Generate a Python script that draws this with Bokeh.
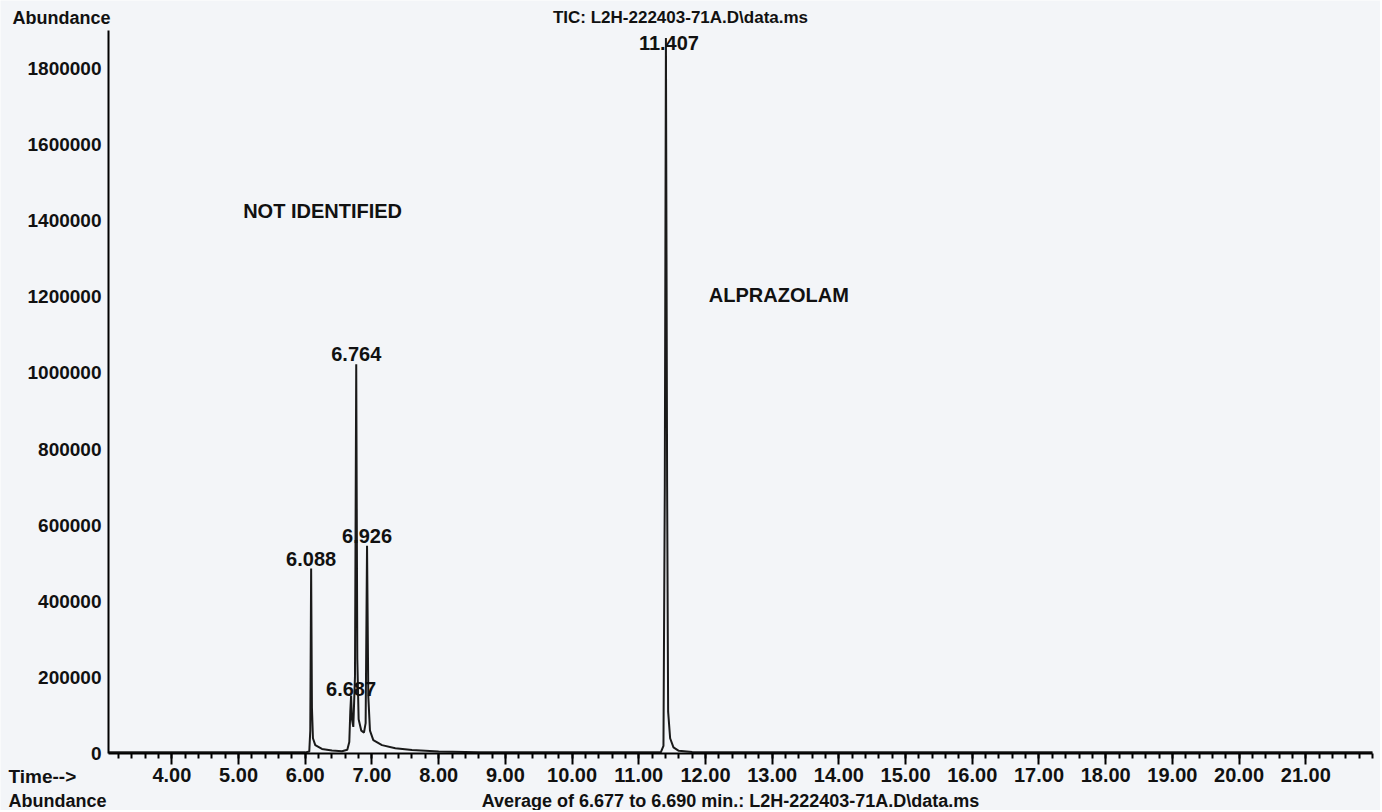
import numpy as np
from bokeh.plotting import figure
from bokeh.models import Range1d, Label, FixedTicker, ColumnDataSource
from bokeh.core.properties import value
from bokeh.embed import file_html
from bokeh.resources import INLINE

# ---- data ----
times = [3.05, 6.00, 6.06, 6.075, 6.088, 6.10, 6.115, 6.15, 6.25, 6.40, 6.55,
         6.63, 6.66, 6.675, 6.687, 6.70, 6.72, 6.745, 6.764, 6.78, 6.80, 6.84,
         6.88, 6.905, 6.926, 6.945, 6.97, 7.02, 7.15, 7.35, 7.60, 8.00, 8.60,
         11.33, 11.37, 11.39, 11.407, 11.425, 11.44, 11.47, 11.52, 11.60, 11.80,
         12.20, 22.0]
abundance = [3000, 3000, 5000, 60000, 486000, 120000, 40000, 22000, 12000, 8000, 6000,
             10000, 30000, 110000, 152000, 90000, 70000, 200000, 1023000, 250000, 90000, 60000,
             55000, 80000, 546000, 150000, 60000, 35000, 22000, 14000, 9000, 5000, 3500,
             3000, 20000, 700000, 1880000, 700000, 110000, 40000, 16000, 7000, 4000,
             3000, 3000]

peak_rt = [6.088, 6.687, 6.764, 6.926, 11.407]
peak_abund = [486000, 152000, 1023000, 546000, 1880000]
peak_labels = ["6.088", "6.687", "6.764", "6.926", "11.407"]

x_ticks = [4, 5, 6, 7, 8, 9, 10, 11, 12, 13, 14, 15, 16, 17, 18, 19, 20, 21]
x_tick_labels = ["4.00", "5.00", "6.00", "7.00", "8.00", "9.00", "10.00", "11.00",
                 "12.00", "13.00", "14.00", "15.00", "16.00", "17.00", "18.00",
                 "19.00", "20.00", "21.00"]
y_ticks = [0, 200000, 400000, 600000, 800000, 1000000, 1200000, 1400000, 1600000, 1800000]
y_tick_labels = ["0", "200000", "400000", "600000", "800000", "1000000", "1200000",
                 "1400000", "1600000", "1800000"]

time_start, time_end = 3.05, 22.0
abund_top = 1900000

title_text = "TIC: L2H-222403-71A.D\\data.ms"
footer_text = "Average of 6.677 to 6.690 min.: L2H-222403-71A.D\\data.ms"
compound_labels = ["NOT IDENTIFIED", "ALPRAZOLAM"]
compound_x = [6.26, 13.1]
compound_y = [1426000, 1205000]

# ---- layout / styles ----
W, H = 1380, 810
AX_LEFT, AX_RIGHT, AX_TOP, AX_BOTTOM = 108, 1372, 30, 753   # pixel frame of the axes
kx = (AX_RIGHT - AX_LEFT) / (time_end - time_start)
ky = (AX_BOTTOM - AX_TOP) / abund_top
x0 = time_start - AX_LEFT / kx
x1 = x0 + W / kx
y1 = AX_BOTTOM / ky
y0 = -(H - AX_BOTTOM) / ky

FONT = "Liberation Sans"
BG = "#f3f5f8"
INK = "#111111"

p = figure(width=W, height=H, x_range=Range1d(x0, x1), y_range=Range1d(y0, y1),
           output_backend="svg", toolbar_location=None, min_border=0,
           min_border_left=0, min_border_right=0, min_border_top=0, min_border_bottom=0)
p.background_fill_color = BG
p.border_fill_color = BG
p.outline_line_color = None
p.grid.visible = False

p.line(times, abundance, line_color="#1a1a1a", line_width=2)

src = ColumnDataSource(dict(x=peak_rt, y=peak_abund, t=peak_labels,
                            dx=[0, 0, 0, 0, 3], dy=[-3, 0, -3, -3, 12]))
p.text(x="x", y="y", text="t", source=src, x_offset="dx", y_offset="dy",
       text_font=value(FONT), text_font_style="bold", text_font_size="20px",
       text_align="center", text_baseline="bottom", text_color=INK)

for txt, cx, cy in zip(compound_labels, compound_x, compound_y):
    p.add_layout(Label(x=cx, y=cy, text=txt, text_font=FONT, text_font_style="bold",
                       text_font_size="20px", text_align="center", text_baseline="middle",
                       text_color=INK))

# x axis
xa = p.xaxis[0]
xa.fixed_location = 0
xa.bounds = (time_start, time_end)
xa.ticker = FixedTicker(ticks=x_ticks, minor_ticks=list(np.round(np.arange(3.2, 22.01, 0.2), 2)))
xa.major_label_overrides = {t: l for t, l in zip(x_ticks, x_tick_labels)}
xa.axis_line_width = 2
xa.axis_line_color = "black"
xa.major_tick_in = 0
xa.major_tick_out = 11
xa.minor_tick_in = 0
xa.minor_tick_out = 5
xa.major_tick_line_width = 2
xa.minor_tick_line_width = 2
xa.major_tick_line_color = "black"
xa.minor_tick_line_color = "black"
xa.major_label_standoff = 3
xa.major_label_text_font = FONT
xa.major_label_text_font_style = "bold"
xa.major_label_text_font_size = "20px"
xa.major_label_text_color = INK

# y axis
ya = p.yaxis[0]
ya.fixed_location = time_start
ya.bounds = (0, abund_top)
ya.ticker = FixedTicker(ticks=y_ticks)
ya.major_label_overrides = {t: l for t, l in zip(y_ticks, y_tick_labels)}
ya.axis_line_width = 2
ya.axis_line_color = "black"
ya.major_tick_in = 0
ya.major_tick_out = 0
ya.minor_tick_line_color = None
ya.major_label_standoff = 7
ya.major_label_text_font = FONT
ya.major_label_text_font_style = "bold"
ya.major_label_text_font_size = "19px"
ya.major_label_text_color = INK

def slabel(txt, x, y, align, size):
    p.add_layout(Label(x=x, y=H - y, x_units="screen", y_units="screen", text=txt,
                       text_font=FONT, text_font_style="bold", text_font_size=size,
                       text_align=align, text_baseline="middle", text_color=INK))

slabel("Abundance", 61, 17, "center", "18px")
slabel(title_text, 680, 17, "center", "17px")
slabel("Time-->", 8, 776, "left", "19px")
slabel("Abundance", 8, 800, "left", "18px")
slabel(footer_text, 730, 800, "center", "18px")

open("out.html", "w").write(file_html(p, INLINE))
